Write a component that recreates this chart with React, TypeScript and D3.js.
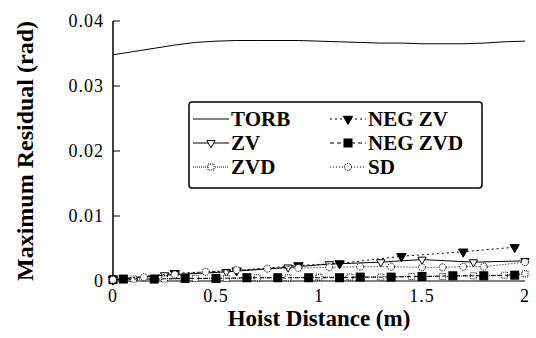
import React from 'react';
import * as d3 from 'd3';

// hoist distance (m) and max residual (rad) per controller
const torbX = [0, 0.1, 0.2, 0.3, 0.4, 0.5, 0.6, 0.7, 0.8, 0.9, 1.0, 1.1, 1.2, 1.3, 1.4, 1.5, 1.6, 1.7, 1.8, 1.9, 2.0];
const torbY = [0.0348, 0.0353, 0.0358, 0.0363, 0.0367, 0.0369, 0.037, 0.037, 0.037, 0.037, 0.0369, 0.0368, 0.0367, 0.0366, 0.0366, 0.0365, 0.0365, 0.0365, 0.0366, 0.0368, 0.0369];

const zvX = [0, 0.25, 0.55, 0.85, 1.05, 1.3, 1.5, 1.75, 2.0];
const zvY = [0.0002, 0.0009, 0.0014, 0.0021, 0.0026, 0.0029, 0.0033, 0.0029, 0.0031];

const zvdX = [0, 0.1, 0.25, 0.4, 0.55, 0.7, 0.85, 1.0, 1.15, 1.3, 1.45, 1.6, 1.75, 1.9, 2.0];
const zvdY = [0.0002, 0.0003, 0.0003, 0.0004, 0.0004, 0.0005, 0.0005, 0.0006, 0.0006, 0.0006, 0.0007, 0.0007, 0.0008, 0.0009, 0.0011];

const negZvX = [0, 0.3, 0.6, 0.9, 1.1, 1.4, 1.7, 1.95];
const negZvY = [0.0002, 0.0012, 0.0016, 0.0024, 0.0027, 0.0038, 0.0045, 0.0052];

const negZvdX = [0, 0.05, 0.2, 0.35, 0.5, 0.65, 0.8, 0.95, 1.1, 1.2, 1.35, 1.5, 1.65, 1.8, 1.95];
const negZvdY = [0.0002, 0.0003, 0.0003, 0.0004, 0.0004, 0.0005, 0.0005, 0.0005, 0.0005, 0.0006, 0.0006, 0.0007, 0.0008, 0.0008, 0.0009];

const sdX = [0, 0.15, 0.3, 0.45, 0.6, 0.75, 0.9, 1.05, 1.2, 1.35, 1.5, 1.6, 1.7, 1.8, 2.0];
const sdY = [0.0002, 0.0006, 0.001, 0.0014, 0.0017, 0.0019, 0.002, 0.0021, 0.0022, 0.0022, 0.0021, 0.0021, 0.0022, 0.0022, 0.0029];

const xTicks = [0, 0.5, 1, 1.5, 2];
const xTickLabels = ['0', '0.5', '1', '1.5', '2'];
const yTicks = [0, 0.01, 0.02, 0.03, 0.04];
const yTickLabels = ['0', '0.01', '0.02', '0.03', '0.04'];

type Series = {
  name: string;
  xs: number[];
  ys: number[];
  dash: string;
  marker: 'none' | 'triDown' | 'triDownFill' | 'square' | 'squareFill' | 'circle';
};

const series: Series[] = [
  { name: 'TORB', xs: torbX, ys: torbY, dash: '', marker: 'none' },
  { name: 'ZV', xs: zvX, ys: zvY, dash: '', marker: 'triDown' },
  { name: 'ZVD', xs: zvdX, ys: zvdY, dash: '1,1', marker: 'square' },
  { name: 'NEG ZV', xs: negZvX, ys: negZvY, dash: '2,3', marker: 'triDownFill' },
  { name: 'NEG ZVD', xs: negZvdX, ys: negZvdY, dash: '4,3', marker: 'squareFill' },
  { name: 'SD', xs: sdX, ys: sdY, dash: '1,2', marker: 'circle' },
];

const W = 536;
const H = 338;
const serif = "'Liberation Serif', 'DejaVu Serif', 'Times New Roman', Tinos, 'Noto Serif', FreeSerif, Times, serif";

const x = d3.scaleLinear().domain([0, 2]).range([113, 525]);
const y = d3.scaleLinear().domain([0, 0.04]).range([281, 21]);

const Marker = ({ kind, cx, cy }: { kind: Series['marker']; cx: number; cy: number }) => {
  if (kind === 'none') return null;
  if (kind === 'triDown' || kind === 'triDownFill') {
    const p = d3.symbol(d3.symbolTriangle, kind === 'triDownFill' ? 38 : 30)();
    return (
      <path
        d={p || ''}
        transform={`translate(${cx},${cy}) rotate(180)`}
        fill={kind === 'triDownFill' ? '#000' : '#fff'}
        stroke="#000"
        strokeWidth={1}
      />
    );
  }
  if (kind === 'square' || kind === 'squareFill') {
    const s = kind === 'squareFill' ? 8 : 6;
    return (
      <rect
        x={cx - s / 2}
        y={cy - s / 2}
        width={s}
        height={s}
        fill={kind === 'squareFill' ? '#000' : '#fff'}
        stroke="#000"
        strokeWidth={1}
        strokeDasharray={kind === 'square' ? '1,1' : undefined}
      />
    );
  }
  return <circle cx={cx} cy={cy} r={3.5} fill="#fff" stroke="#000" strokeWidth={1} strokeDasharray="1.5,1" />;
};

const legendRows = [
  [0, 3],
  [1, 4],
  [2, 5],
];

export default function App() {
  return (
    <svg width={W} height={H} style={{ position: 'absolute', left: 0, top: 0, background: '#fff', fontFamily: serif }}>
      <rect width={W} height={H} fill="#fff" />

      {/* axes */}
      <line x1={x(0)} x2={x(0)} y1={y(0.04)} y2={y(0) + 2} stroke="#000" strokeWidth={1.5} />
      <line x1={x(0)} x2={x(2)} y1={y(0)} y2={y(0)} stroke="#000" strokeWidth={1} />
      {yTicks.map((t, i) => (
        <g key={t}>
          {t > 0 && <line x1={x(0)} x2={x(0) + 7} y1={y(t)} y2={y(t)} stroke="#000" strokeWidth={1} />}
          <text
            x={104}
            y={y(t)}
            dy="0.35em"
            textAnchor="end"
            fontFamily={serif}
            style={{ fontSize: 18, letterSpacing: 1 }}
          >
            {yTickLabels[i]}
          </text>
        </g>
      ))}
      {xTicks.map((t, i) => (
        <text
          key={t}
          x={x(t)}
          y={302}
          textAnchor="middle"
          fontFamily={serif}
          style={{ fontSize: 18, letterSpacing: 1 }}
        >
          {xTickLabels[i]}
        </text>
      ))}

      <text
        transform="translate(33,151) rotate(-90)"
        textAnchor="middle"
        fontFamily={serif}
        style={{ fontWeight: 'bold', fontSize: 24 }}
      >
        Maximum Residual (rad)
      </text>
      <text x={319} y={326} textAnchor="middle" fontFamily={serif} style={{ fontWeight: 'bold', fontSize: 23 }}>
        Hoist Distance (m)
      </text>

      {/* series */}
      {series.map((s) => {
        const pts = s.xs.map((v, i) => [x(v), y(s.ys[i])] as [number, number]);
        const path = d3.line()(pts);
        return (
          <g key={s.name}>
            <path d={path || ''} fill="none" stroke="#000" strokeWidth={1} strokeDasharray={s.dash || undefined} />
            {pts.map((p, i) => (
              <Marker key={i} kind={s.marker} cx={p[0]} cy={p[1]} />
            ))}
          </g>
        );
      })}

      {/* legend */}
      <rect x={189} y={102} width={293} height={86} rx={3} fill="#fff" stroke="#000" strokeWidth={1.5} />
      {legendRows.map((row, r) =>
        row.map((si, c) => {
          const s = series[si];
          const lx = c === 0 ? 193 : 330;
          const cy = 119 + r * 24;
          return (
            <g key={s.name}>
              <line x1={lx} x2={lx + 36} y1={cy} y2={cy} stroke="#000" strokeWidth={1} strokeDasharray={s.dash || undefined} />
              <Marker kind={s.marker} cx={lx + 18} cy={cy} />
              <text x={lx + 38} y={cy} dy="0.35em" fontFamily={serif} style={{ fontWeight: 'bold', fontSize: 21 }}>
                {s.name}
              </text>
            </g>
          );
        })
      )}
    </svg>
  );
}
